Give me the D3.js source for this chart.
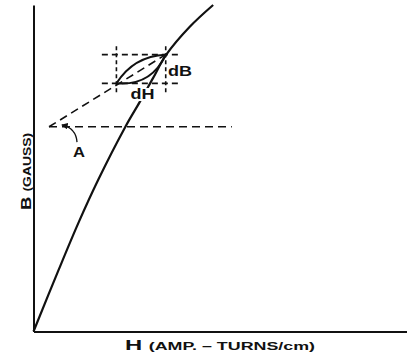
<!DOCTYPE html>
<html>
<head>
<meta charset="utf-8">
<script src="https://cdn.jsdelivr.net/npm/d3@7"></script>
<style>
  body { margin: 0; background: #fff; }
  svg { display: block; }
  text { font-family: "Liberation Sans", Arial, sans-serif; fill: #111; }
</style>
</head>
<body>
<div id="chart"></div>
<script>
// Data (arbitrary units, no ticks on the original)
const curveH = [0, 6.7, 12, 17.3, 24.5, 28.5, 32, 35.5, 41.9, 48.1]
const curveB = [0, 18.8, 33.2, 46.4, 62.5, 70.4, 77.6, 84.7, 93.4, 100]

// small loop dH x dB and its box
const loopH = [22.2, 35.4]
const loopB = [76.0, 84.8]
const boxH = [18.3, 39.2]   // extent of the horizontal dashes
const boxB = [73.3, 87.9]   // extent of the vertical dashes

// tangent line and reference line for angle A
const vertex = [4.15, 62.7]
const refLineEnd = 53.1
const leaderH = [11.65, 11.4, 7.6]
const leaderB = [58.0, 62.3, 63.3]

const labels = [
  { text: 'dB', h: 36.0, b: 78.3, anchor: 'start', size: 14, len: 24 },
  { text: 'dH', h: 26.0, b: 71.2, anchor: 'start', size: 14, len: 24 },
  { text: 'A', h: 12.2, b: 53.4, anchor: 'middle', size: 15, len: 12 },
]

// Dimensions
const dims = { width: 407, height: 356, left: 33.5, top: 5, bottom: 331.5, right: 407 }

const svg = d3.select('#chart').append('svg')
  .attr('width', dims.width)
  .attr('height', dims.height)

const defs = svg.append('defs')
defs.append('marker')
  .attr('id', 'arrow')
  .attr('viewBox', '0 0 10 10')
  .attr('refX', 9).attr('refY', 5)
  .attr('markerWidth', 5).attr('markerHeight', 5)
  .attr('orient', 'auto')
  .append('path')
  .attr('d', 'M0,0 L10,5 L0,10 z')
  .attr('fill', '#111')

// Scales
const x = d3.scaleLinear().domain([0, 100]).range([dims.left, dims.right])
const y = d3.scaleLinear().domain([0, 100]).range([dims.bottom, dims.top])

// Axes (no ticks)
svg.append('g')
  .attr('transform', `translate(0,${dims.bottom})`)
  .call(d3.axisBottom(x).tickValues([]).tickSizeOuter(0))
svg.append('g')
  .attr('transform', `translate(${dims.left},0)`)
  .call(d3.axisLeft(y).tickValues([]).tickSizeOuter(0))
svg.selectAll('.domain').attr('stroke', '#111').attr('stroke-width', 2)

// magnetisation curve
const curve = curveH.map((h, i) => [h, curveB[i]])
const line = d3.line()
  .x(d => x(d[0]))
  .y(d => y(d[1]))
  .curve(d3.curveCatmullRom)
svg.append('path')
  .datum(curve)
  .attr('d', line)
  .attr('fill', 'none')
  .attr('stroke', '#111')
  .attr('stroke-width', 2.2)

const dashed = (x1, y1, x2, y2, dash) => svg.append('line')
  .attr('x1', x(x1)).attr('y1', y(y1))
  .attr('x2', x(x2)).attr('y2', y(y2))
  .attr('stroke', '#111')
  .attr('stroke-width', 1.6)
  .attr('stroke-dasharray', dash)

// box around the loop
loopB.forEach(b => dashed(boxH[0], b, boxH[1], b, '6,4'))
loopH.forEach(h => dashed(h, boxB[0], h, boxB[1], '4,3'))

// tangent through the loop tips, and horizontal reference
dashed(vertex[0], vertex[1], loopH[1], loopB[1], '8,5')
dashed(vertex[0], vertex[1], refLineEnd, vertex[1], '8,5')

// the small loop (lens shape)
const p0 = [x(loopH[0]), y(loopB[0])]
const p1 = [x(loopH[1]), y(loopB[1])]
const mid = [(p0[0] + p1[0]) / 2, (p0[1] + p1[1]) / 2]
const len = Math.hypot(p1[0] - p0[0], p1[1] - p0[1])
const nx = -(p1[1] - p0[1]) / len, ny = (p1[0] - p0[0]) / len
const lens = d3.path()
lens.moveTo(p0[0], p0[1])
lens.quadraticCurveTo(mid[0] + nx * 20, mid[1] + ny * 20, p1[0], p1[1])
lens.quadraticCurveTo(mid[0] - nx * 15, mid[1] - ny * 15, p0[0], p0[1])
svg.append('path')
  .attr('d', lens.toString())
  .attr('fill', 'none')
  .attr('stroke', '#111')
  .attr('stroke-width', 2)

// leader from A to the angle
const leader = d3.path()
leader.moveTo(x(leaderH[0]), y(leaderB[0]))
leader.quadraticCurveTo(x(leaderH[1]), y(leaderB[1]), x(leaderH[2]), y(leaderB[2]))
svg.append('path')
  .attr('d', leader.toString())
  .attr('fill', 'none')
  .attr('stroke', '#111')
  .attr('stroke-width', 1.3)
  .attr('marker-end', 'url(#arrow)')

// labels
labels.forEach(l => {
  const t = svg.append('text')
    .attr('x', x(l.h)).attr('y', y(l.b))
    .attr('text-anchor', l.anchor)
    .attr('font-size', l.size)
    .attr('font-weight', 'bold')
    .attr('textLength', l.len).attr('lengthAdjust', 'spacingAndGlyphs')
    .text(l.text)
  if (l.text === 'dH') {
    const bb = t.node().getBBox()
    svg.insert('rect', 'text')
      .attr('x', bb.x - 1).attr('y', bb.y + 2)
      .attr('width', bb.width + 2).attr('height', bb.height - 3)
      .attr('fill', '#fff')
  }
})

// axis titles
const xt = svg.append('text')
  .attr('x', 220).attr('y', 350)
  .attr('text-anchor', 'middle')
  .attr('font-weight', 'bold')
  .attr('textLength', 190).attr('lengthAdjust', 'spacingAndGlyphs')
xt.append('tspan').attr('font-size', 14).text('H ')
xt.append('tspan').attr('font-size', 10.5).text(' (AMP. – TURNS/cm)')

const yt = svg.append('text')
  .attr('transform', 'translate(31,171.5) rotate(-90)')
  .attr('text-anchor', 'middle')
  .attr('font-weight', 'bold')
  .attr('textLength', 77).attr('lengthAdjust', 'spacingAndGlyphs')
yt.append('tspan').attr('font-size', 14).text('B ')
yt.append('tspan').attr('font-size', 10.5).text('(GAUSS)')
</script>
</body>
</html>
